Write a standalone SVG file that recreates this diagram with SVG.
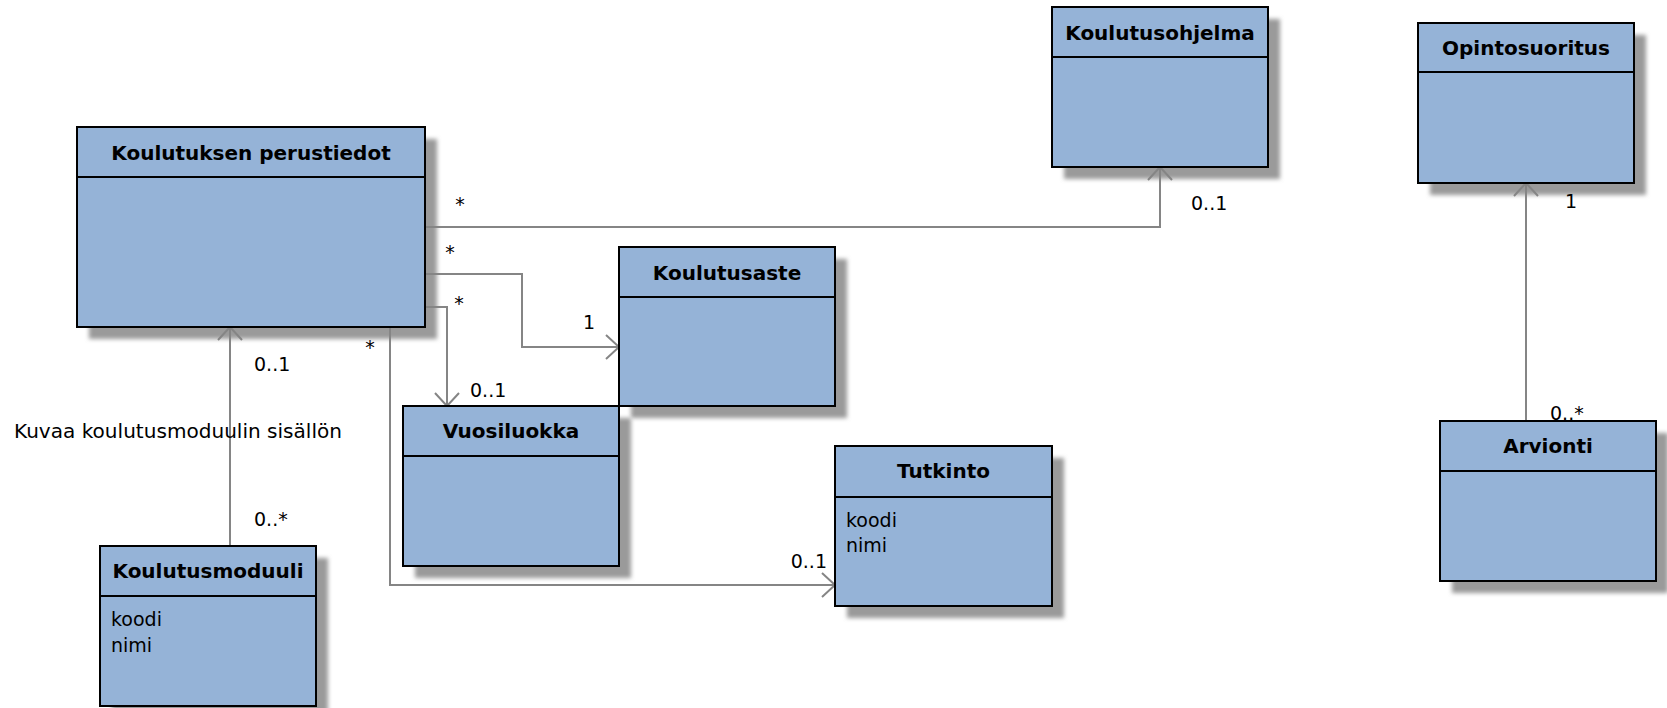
<svg xmlns="http://www.w3.org/2000/svg" width="1667" height="708" viewBox="0 0 1667 708">
  <style>
    .shadow { fill: #9a9a9a; filter: url(#soft); }
    .box { fill: #95b3d7; stroke: #000; stroke-width: 2; }
    .sep { stroke: #000; stroke-width: 2; }
    .title { font-family: "DejaVu Sans", Verdana, sans-serif; font-weight: bold; font-size: 20px; fill: #000; text-anchor: middle; }
    .attr { font-family: "DejaVu Sans", Verdana, sans-serif; font-size: 19px; fill: #000; }
    .mult { font-family: "DejaVu Sans", Verdana, sans-serif; font-size: 19px; fill: #000; }
    .star { font-family: "DejaVu Sans", Verdana, sans-serif; font-size: 19px; fill: #000; text-anchor: middle; }
    .link { fill: none; stroke: #858585; stroke-width: 2; }
  </style>
  <defs>
    <filter id="soft" x="-10%" y="-10%" width="130%" height="130%">
      <feGaussianBlur stdDeviation="2"/>
    </filter>
    <marker id="open" viewBox="-15 -13 17 26" refX="0" refY="0" markerWidth="17" markerHeight="26" markerUnits="userSpaceOnUse" orient="auto">
      <path d="M-13,-12 L0,0 L-13,12" fill="none" stroke="#858585" stroke-width="2"/>
    </marker>
  </defs>

  <rect width="1667" height="708" fill="#fff"/>

  <!-- class shadows -->
  <g id="shadows">
    <rect class="shadow" x="89" y="139" width="348" height="200"/>
    <rect class="shadow" x="1064" y="19" width="216" height="160"/>
    <rect class="shadow" x="1430" y="35" width="216" height="160"/>
    <rect class="shadow" x="631" y="259" width="216" height="159"/>
    <rect class="shadow" x="415" y="418" width="216" height="160"/>
    <rect class="shadow" x="847" y="458" width="217" height="160"/>
    <rect class="shadow" x="112" y="558" width="216" height="160"/>
    <rect class="shadow" x="1452" y="433" width="216" height="160"/>
  </g>

  <!-- associations -->
  <g id="connectors">
    <polyline class="link" points="425,227 1160,227 1160,167" marker-end="url(#open)"/>
    <polyline class="link" points="425,274 522,274 522,347 619,347" marker-end="url(#open)"/>
    <polyline class="link" points="425,307 447,307 447,406" marker-end="url(#open)"/>
    <polyline class="link" points="390,327 390,585 835,585" marker-end="url(#open)"/>
    <line class="link" x1="230" y1="546" x2="230" y2="327" marker-end="url(#open)"/>
    <line class="link" x1="1526" y1="421" x2="1526" y2="183" marker-end="url(#open)"/>

    <text class="star" x="460" y="211">*</text>
    <text class="mult" x="1191" y="210">0..1</text>
    <text class="star" x="450" y="259">*</text>
    <text class="mult" x="583" y="329">1</text>
    <text class="star" x="459" y="310">*</text>
    <text class="mult" x="470" y="397">0..1</text>
    <text class="star" x="370" y="354">*</text>
    <text class="mult" x="827" y="568" text-anchor="end">0..1</text>
    <text class="mult" x="254" y="371">0..1</text>
    <text class="mult" x="254" y="526">0..*</text>
    <text class="mult" x="14" y="438" textLength="328" lengthAdjust="spacingAndGlyphs">Kuvaa koulutusmoduulin sisällön</text>
    <text class="mult" x="1565" y="208">1</text>
    <text class="mult" x="1550" y="420">0..*</text>
  </g>

  <!-- classes -->
  <g id="koulutuksen-perustiedot">
    <rect class="box" x="77" y="127" width="348" height="200"/>
    <line class="sep" x1="77" y1="177" x2="425" y2="177"/>
    <text class="title" x="251" y="160">Koulutuksen perustiedot</text>
  </g>

  <g id="koulutusohjelma">
    <rect class="box" x="1052" y="7" width="216" height="160"/>
    <line class="sep" x1="1052" y1="57" x2="1268" y2="57"/>
    <text class="title" x="1160" y="40">Koulutusohjelma</text>
  </g>

  <g id="opintosuoritus">
    <rect class="box" x="1418" y="23" width="216" height="160"/>
    <line class="sep" x1="1418" y1="72" x2="1634" y2="72"/>
    <text class="title" x="1526" y="55">Opintosuoritus</text>
  </g>

  <g id="koulutusaste">
    <rect class="box" x="619" y="247" width="216" height="159"/>
    <line class="sep" x1="619" y1="297" x2="835" y2="297"/>
    <text class="title" x="727" y="280">Koulutusaste</text>
  </g>

  <g id="vuosiluokka">
    <rect class="box" x="403" y="406" width="216" height="160"/>
    <line class="sep" x1="403" y1="456" x2="619" y2="456"/>
    <text class="title" x="511" y="438">Vuosiluokka</text>
  </g>

  <g id="tutkinto">
    <rect class="box" x="835" y="446" width="217" height="160"/>
    <line class="sep" x1="835" y1="497" x2="1052" y2="497"/>
    <text class="title" x="943.5" y="478">Tutkinto</text>
    <text class="attr" x="846" y="527">koodi</text>
    <text class="attr" x="846" y="552">nimi</text>
  </g>

  <g id="koulutusmoduuli">
    <rect class="box" x="100" y="546" width="216" height="160"/>
    <line class="sep" x1="100" y1="596" x2="316" y2="596"/>
    <text class="title" x="208" y="578">Koulutusmoduuli</text>
    <text class="attr" x="111" y="626">koodi</text>
    <text class="attr" x="111" y="652">nimi</text>
  </g>

  <g id="arvionti">
    <rect class="box" x="1440" y="421" width="216" height="160"/>
    <line class="sep" x1="1440" y1="471" x2="1656" y2="471"/>
    <text class="title" x="1548" y="453">Arvionti</text>
  </g>
</svg>
